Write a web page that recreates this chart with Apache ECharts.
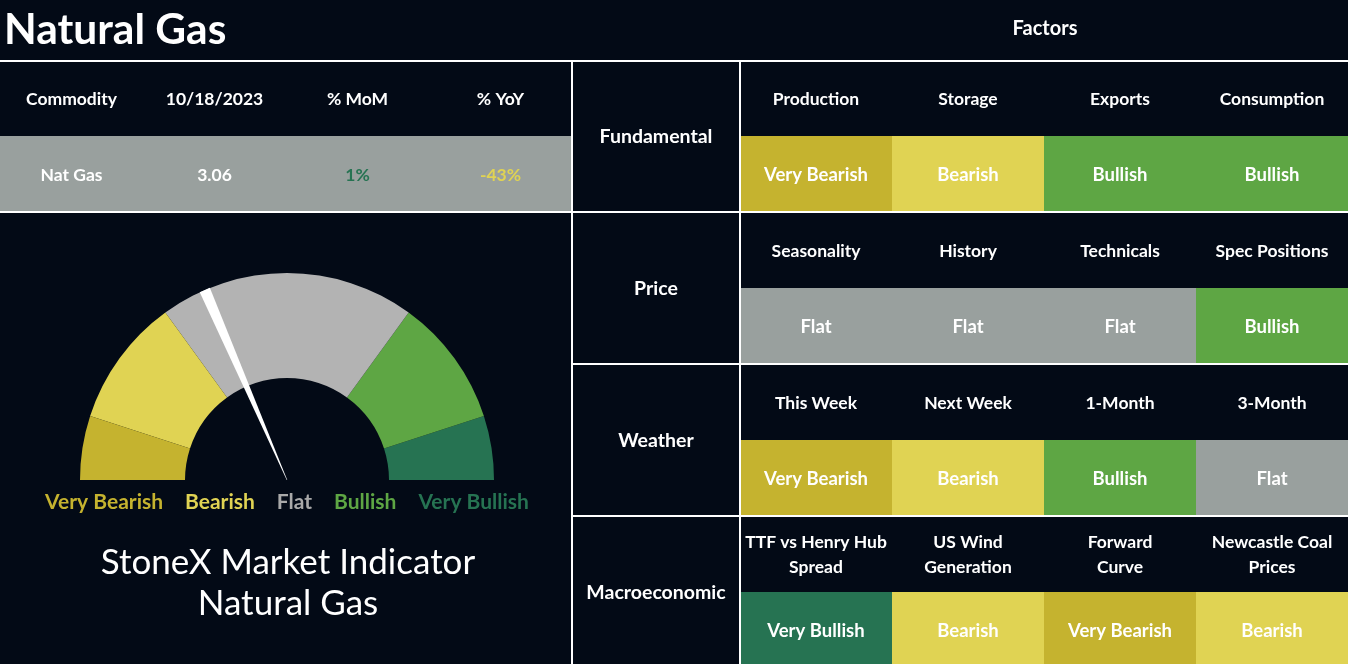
<!DOCTYPE html>
<html><head><meta charset="utf-8">
<script src="https://cdn.jsdelivr.net/npm/echarts@6/dist/echarts.min.js"></script>
<style>html,body{margin:0;padding:0;background:#030a16;}#c{width:1348px;height:664px;}</style>
</head><body><div id="c"></div>
<script>
// ---------------- DATA ----------------
const pageTitle = 'Natural Gas';
const factorsTitle = 'Factors';
const commodityHeaders = ['Commodity', '10/18/2023', '% MoM', '% YoY'];
const commodityValues = ['Nat Gas', '3.06', '1%', '-43%'];
const sections = ['Fundamental', 'Price', 'Weather', 'Macroeconomic'];
const factorNames = [
  ['Production', 'Storage', 'Exports', 'Consumption'],
  ['Seasonality', 'History', 'Technicals', 'Spec Positions'],
  ['This Week', 'Next Week', '1-Month', '3-Month'],
  ['TTF vs Henry Hub\nSpread', 'US Wind\nGeneration', 'Forward\nCurve', 'Newcastle Coal\nPrices']
];
const factorSignals = [
  ['Very Bearish', 'Bearish', 'Bullish', 'Bullish'],
  ['Flat', 'Flat', 'Flat', 'Bullish'],
  ['Very Bearish', 'Bearish', 'Bullish', 'Flat'],
  ['Very Bullish', 'Bearish', 'Very Bearish', 'Bearish']
];
const signalLevels = ['Very Bearish', 'Bearish', 'Flat', 'Bullish', 'Very Bullish'];
const gaugeBandShares = [10, 20, 40, 20, 10];
const indicatorValue = 37;
const indicatorTitle = ['StoneX Market Indicator', 'Natural Gas'];

// ---------------- STYLE ----------------
const FONT = 'Lato';
const BG = '#030a16';
const SIGNAL_FILL = {'Very Bearish':'#c5b32f','Bearish':'#e0d353','Flat':'#99a09e','Bullish':'#5ea644','Very Bullish':'#267352'};
const GAUGE_FILL = {'Very Bearish':'#c5b32f','Bearish':'#e0d353','Flat':'#b3b3b3','Bullish':'#5ea644','Very Bullish':'#267352'};
const LABEL_FILL = {'Very Bearish':'#c5b32f','Bearish':'#e0d353','Flat':'#a9a9a9','Bullish':'#5ea644','Very Bullish':'#267352'};
const commodityValueColors = ['#ffffff', '#ffffff', SIGNAL_FILL['Very Bullish'], SIGNAL_FILL['Bearish']];

const chart = echarts.init(document.getElementById('c'), null, {renderer:'canvas'});

// build cells
const leftCells = [];
commodityHeaders.forEach((h, i) => leftCells.push({value:[i, 0], text:h, fill:BG, color:'#fff', size:17.5}));
commodityValues.forEach((v, i) => leftCells.push({value:[i, 1], text:v, fill:SIGNAL_FILL['Flat'], color:commodityValueColors[i], size:17.5}));

const sectionCells = sections.map((s, i) => ({value:[0, i], text:s, fill:BG, color:'#fff', size:19.5}));

const factorCells = [];
factorNames.forEach((row, r) => row.forEach((n, c) => {
  factorCells.push({value:[c, r*2], text:n, fill:BG, color:'#fff', size:17.5});
  factorCells.push({value:[c, r*2+1], text:factorSignals[r][c], fill:SIGNAL_FILL[factorSignals[r][c]], color:'#fff', size:18.5});
}));

function renderer(cells) {
  return function (params, api) {
    const c = cells[params.dataIndex];
    const p = api.coord([api.value(0), api.value(1)]);
    const s = api.size([1, 1]);
    return {
      type:'group',
      children:[
        {type:'rect', shape:{x:p[0]-s[0]/2, y:p[1]-s[1]/2, width:s[0]+0.5, height:s[1]+0.5}, style:{fill:c.fill}},
        {type:'text', style:{text:c.text, x:p[0], y:p[1]+1, align:'center', verticalAlign:'middle',
          fill:c.color, fontSize:c.size, fontWeight:700, fontFamily:FONT, lineHeight:25}}
      ]
    };
  };
}

let acc = 0;
const gaugeStops = gaugeBandShares.map((v, i) => { acc += v; return [acc/100, GAUGE_FILL[signalLevels[i]]]; });
const richLabels = {};
signalLevels.forEach((s, i) => { richLabels['s'+i] = {color:LABEL_FILL[s], fontSize:21, fontWeight:700, fontFamily:FONT, padding:[0, 11]}; });

const W = 2, LC = '#ffffff';
function hline(x1, x2, y){ return {type:'line', z:100, shape:{x1, y1:y, x2, y2:y}, style:{stroke:LC, lineWidth:W}}; }
function vline(x, y1, y2){ return {type:'line', z:100, shape:{x1:x, y1, x2:x, y2}, style:{stroke:LC, lineWidth:W}}; }

const option = {
  backgroundColor: BG,
  animation: false,
  grid: [
    {left:0, top:60, width:572, height:152, outerBoundsMode:'none', containLabel:false},
    {left:572, top:60, width:168, height:608, outerBoundsMode:'none', containLabel:false},
    {left:740, top:60, width:608, height:608, outerBoundsMode:'none', containLabel:false}
  ],
  xAxis: [
    {gridIndex:0, type:'category', data:commodityHeaders, show:false},
    {gridIndex:1, type:'category', data:['section'], show:false},
    {gridIndex:2, type:'category', data:[0,1,2,3], show:false}
  ],
  yAxis: [
    {gridIndex:0, type:'category', data:['header','value'], inverse:true, show:false},
    {gridIndex:1, type:'category', data:sections, inverse:true, show:false},
    {gridIndex:2, type:'category', data:[0,1,2,3,4,5,6,7], inverse:true, show:false}
  ],
  graphic: [
    {type:'text', z:100, style:{text:pageTitle, x:4, y:30, align:'left', verticalAlign:'middle', fill:'#fff', fontSize:42.5, fontWeight:700, fontFamily:FONT}},
    {type:'text', z:100, style:{text:factorsTitle, x:1045, y:29, align:'center', verticalAlign:'middle', fill:'#fff', fontSize:20, fontWeight:700, fontFamily:FONT}},
    {type:'text', z:100, style:{text:indicatorTitle[0], x:288, y:563, align:'center', verticalAlign:'middle', fill:'#fff', fontSize:35, fontWeight:400, fontFamily:FONT}},
    {type:'text', z:100, style:{text:indicatorTitle[1], x:288, y:604, align:'center', verticalAlign:'middle', fill:'#fff', fontSize:35, fontWeight:400, fontFamily:FONT}},
    hline(0, 1348, 61), hline(0, 1348, 212), hline(572, 1348, 364), hline(572, 1348, 516),
    vline(572, 60, 664), vline(740, 60, 664)
  ],
  series: [
    {type:'custom', xAxisIndex:0, yAxisIndex:0, data:leftCells, renderItem:renderer(leftCells), silent:true},
    {type:'custom', xAxisIndex:1, yAxisIndex:1, data:sectionCells, renderItem:renderer(sectionCells), silent:true},
    {type:'custom', xAxisIndex:2, yAxisIndex:2, data:factorCells, renderItem:renderer(factorCells), silent:true},
    {
      type:'gauge', center:[287, 480], radius:207, startAngle:180, endAngle:0, min:0, max:100,
      axisLine:{lineStyle:{width:105, color:gaugeStops}},
      splitLine:{show:false}, axisTick:{show:false}, axisLabel:{show:false},
      pointer:{show:true, icon:'path://M0,0 L12,0 L6.3,120 L5.7,120 Z', length:'100%', width:11, offsetCenter:[0,0], itemStyle:{color:'#ffffff'}},
      anchor:{show:false}, title:{show:false},
      detail:{show:true, offsetCenter:[0, 22], valueAnimation:false,
        formatter:() => signalLevels.map((s, i) => '{s'+i+'|'+s+'}').join(''), rich:richLabels},
      data:[{value:indicatorValue}]
    }
  ]
};
chart.setOption(option);
</script></body></html>
